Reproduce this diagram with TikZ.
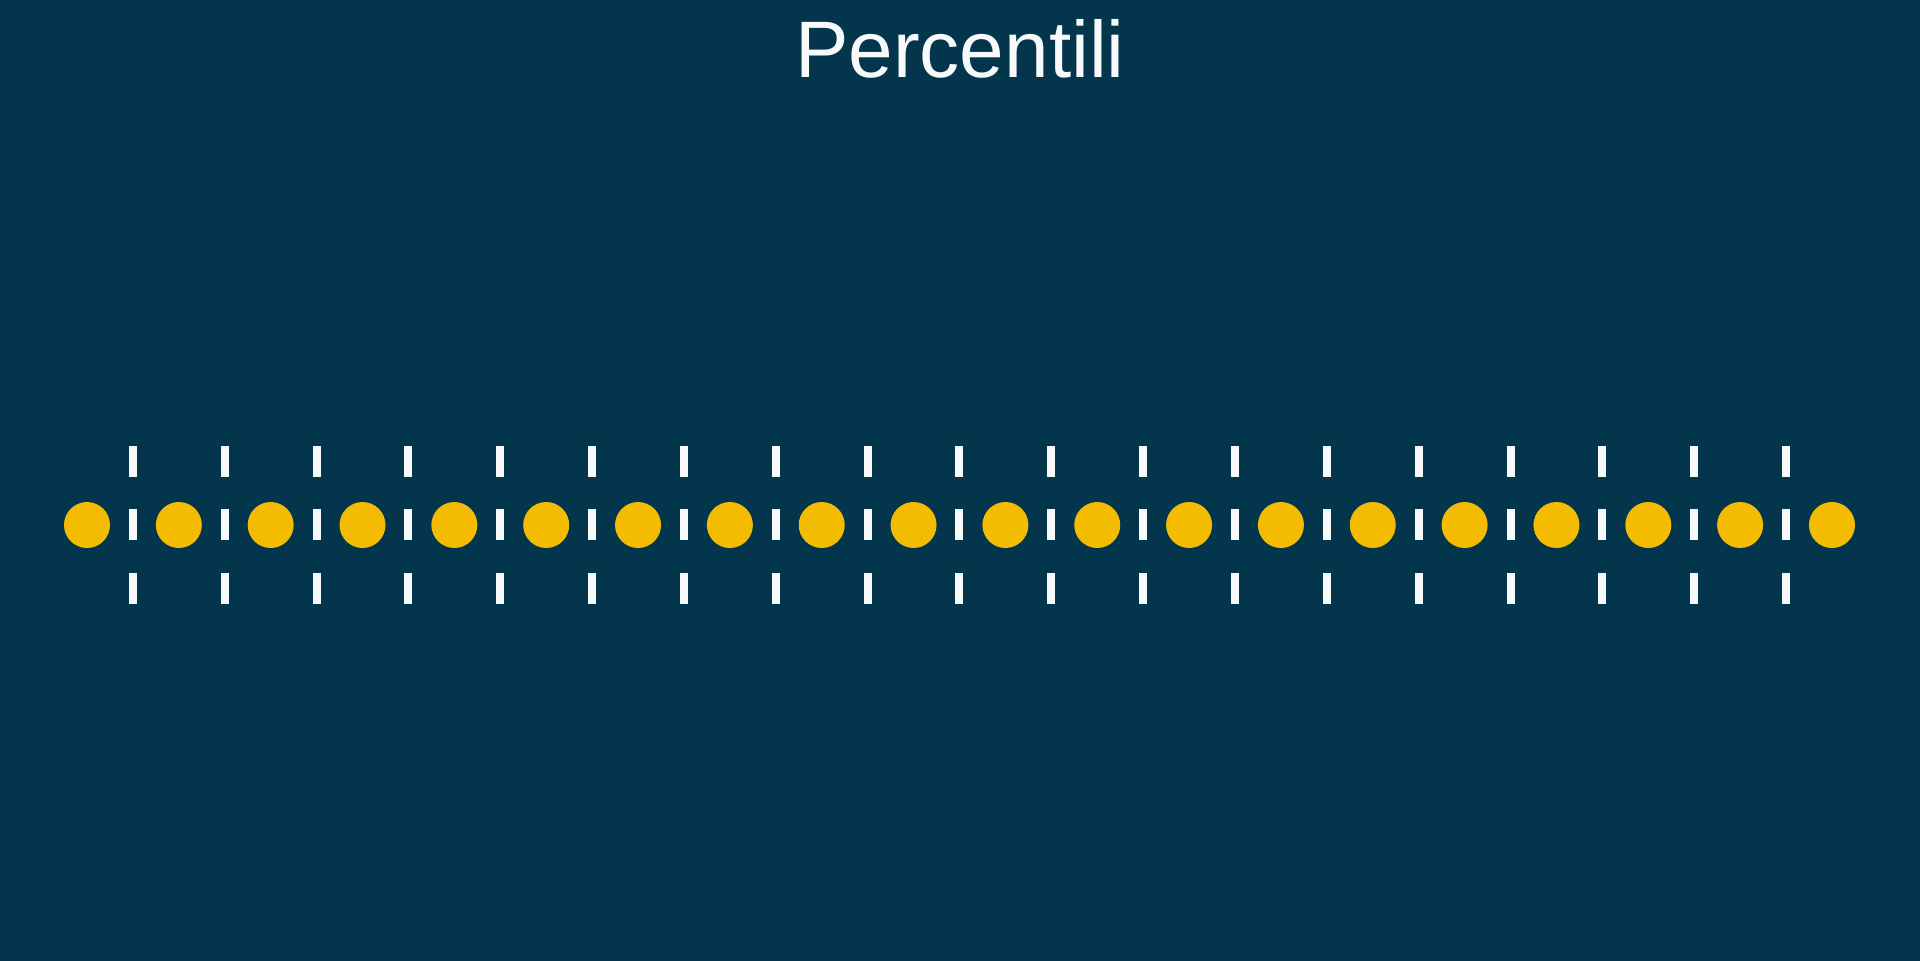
\documentclass[tikz,border=0pt]{standalone}
\usepackage{fontspec}
\setmainfont{Liberation Sans}
\usepackage{xcolor}
\usetikzlibrary{positioning}

\definecolor{pctbg}{HTML}{03354C}
\definecolor{pctyellow}{HTML}{F4BC00}
\definecolor{pctwhite}{HTML}{F8F9FA}

\begin{document}
\begin{tikzpicture}[
    dot/.style={circle, fill=pctyellow, draw=none, minimum size=0.46cm, inner sep=0pt},
    tick/.style={rectangle, fill=pctwhite, draw=none, minimum width=0.08cm, minimum height=0.31cm, inner sep=0pt},
    title/.style={font=\fontsize{22.8pt}{27pt}\selectfont, text=pctwhite, anchor=base, inner sep=0pt}
]

\useasboundingbox (0,0) rectangle (19.2,9.6);
\fill[pctbg] (-0.1,-0.1) rectangle (19.3,9.7);

\node[title] (title) at (9.6,8.83) {Percentili};

% the 20 data points
\foreach \i in {1,...,20} {
    \node[dot] (dot\i) at ({0.87+0.9184*(\i-1)},4.35) {};
}

% the 19 cut marks between them
\foreach \i in {1,...,19} {
    \node[tick] (mid\i) at ({0.87+0.9184*(\i-0.5)},4.36) {};
    \node[tick] (top\i) at ({0.87+0.9184*(\i-0.5)},4.99) {};
    \node[tick] (bot\i) at ({0.87+0.9184*(\i-0.5)},3.72) {};
}

\end{tikzpicture}
\end{document}
